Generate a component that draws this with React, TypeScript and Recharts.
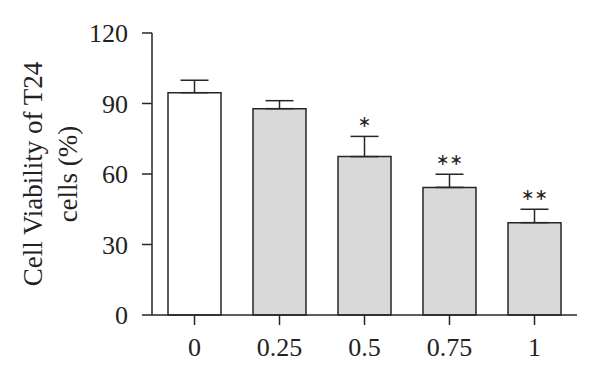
import { BarChart, Bar, XAxis, YAxis, ErrorBar, Cell, LabelList } from 'recharts';

const doses = ['0', '0.25', '0.5', '0.75', '1'];
const viability = [94.6, 87.8, 67.4, 54.3, 39.3];
const errorUp = [5.3, 3.4, 8.6, 5.6, 5.7];
const significance = ['', '', '*', '**', '**'];
const yTicks = [0, 30, 60, 90, 120];

const INK = '#262626';
const TEXT = '#222222';
const SERIF = '"Liberation Serif", "DejaVu Serif", serif';
const barFills = ['#ffffff', '#d9d9d9', '#d9d9d9', '#d9d9d9', '#d9d9d9'];

const data = doses.map((dose, i) => ({
  dose,
  value: viability[i],
  err: [0, errorUp[i]],
  sig: significance[i],
}));

// stars sit a little above the top of the error bar
const StarLabel = (props: any) => {
  const { x, y, width, height, value, index } = props;
  if (!value) return null;
  const perUnit = height / viability[index];
  const top = y - errorUp[index] * perUnit;
  return (
    <text
      x={x + width / 2}
      y={top - 9}
      textAnchor="middle"
      fontSize={16}
      fill={TEXT}
      fontFamily='"DejaVu Sans", sans-serif'
    >
      {value.replace(/\*/g, '\u2217')}
    </text>
  );
};

const YLabel = (props: any) => {
  const { viewBox } = props;
  const cy = viewBox.y + viewBox.height / 2;
  return (
    <g fontFamily={SERIF} fontSize={27} fill={TEXT}>
      <text x={42} y={cy} textAnchor="middle" transform={`rotate(-90, 42, ${cy})`}>
        Cell Viability of T24
      </text>
      <text x={77} y={cy} textAnchor="middle" transform={`rotate(-90, 77, ${cy})`}>
        cells (%)
      </text>
    </g>
  );
};

const App = () => {
  return (
    <div style={{ width: 600, height: 378 }}>
      <style>{'body { margin: 0; }'}</style>
      <BarChart
        width={600}
        height={378}
        data={data}
        margin={{ top: 33, right: 23, bottom: 0, left: 0 }}
        barSize={53}
      >
        <XAxis
          dataKey="dose"
          height={63}
          tickSize={10}
          tickMargin={13}
          axisLine={{ stroke: INK, strokeWidth: 1.5 }}
          tickLine={{ stroke: INK, strokeWidth: 1.5 }}
          tick={{ fontSize: 26, fill: TEXT, fontFamily: SERIF }}
        />
        <YAxis
          width={152}
          domain={[0, 120]}
          ticks={yTicks}
          interval={0}
          tickSize={10}
          tickMargin={14}
          axisLine={{ stroke: INK, strokeWidth: 1.5 }}
          tickLine={{ stroke: INK, strokeWidth: 1.5 }}
          tick={{ fontSize: 26, fill: TEXT, fontFamily: SERIF }}
          label={<YLabel />}
        />
        <Bar dataKey="value" stroke={INK} strokeWidth={1.5} isAnimationActive={false}>
          {data.map((d, i) => (
            <Cell key={d.dose} fill={barFills[i]} />
          ))}
          <ErrorBar dataKey="err" direction="y" width={14} stroke={INK} strokeWidth={1.5} isAnimationActive={false} />
          <LabelList dataKey="sig" content={<StarLabel />} />
        </Bar>
      </BarChart>
    </div>
  );
};

export default App;
